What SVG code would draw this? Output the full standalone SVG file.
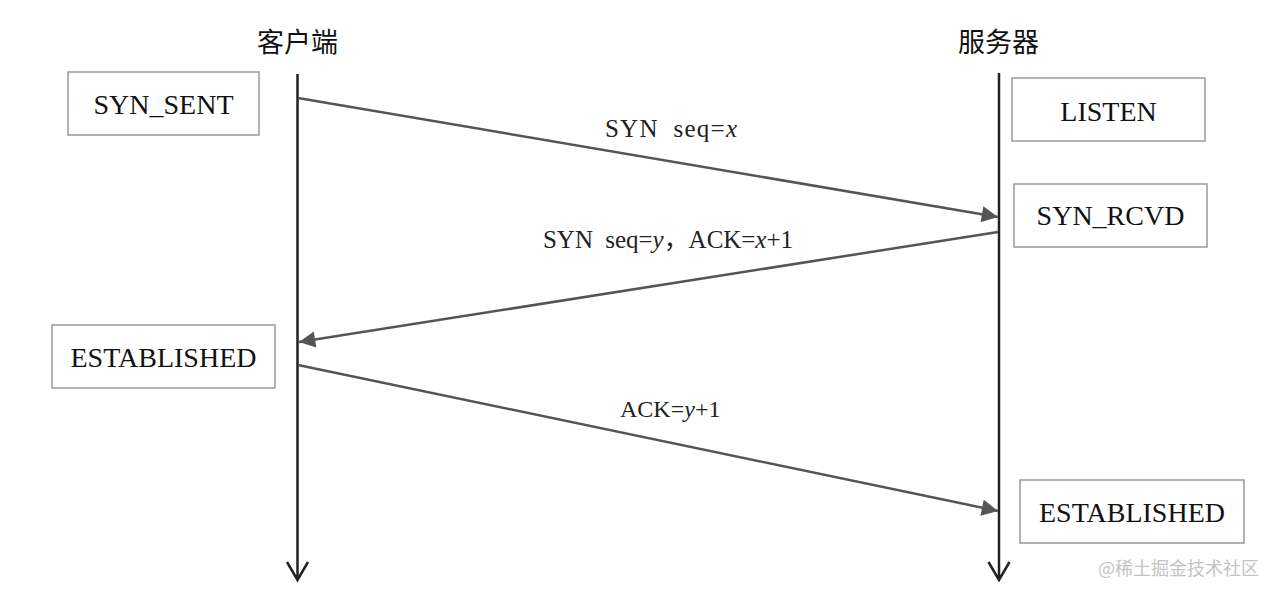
<svg xmlns="http://www.w3.org/2000/svg" width="1276" height="597" viewBox="0 0 1276 597">
<style>
.title{font-family:"Noto Sans CJK SC","Noto Sans CJK TC",sans-serif;font-size:27px;fill:#111;text-anchor:middle}
.box{fill:#fff;stroke:#9a9a9a;stroke-width:1.5}
.state{font-family:"Liberation Serif",serif;font-size:28px;fill:#111;text-anchor:middle}
.life{stroke:#222;stroke-width:2.5;fill:none}
.msg{stroke:#555;stroke-width:2.5;fill:none}
.lbl{font-family:"Liberation Serif","Noto Sans CJK SC",serif;font-size:25px;fill:#222;white-space:pre}
.it{font-style:italic}
.wm{font-family:"Noto Sans CJK SC",sans-serif;font-size:18px;fill:#c4c4c4}
</style>
<defs>
<marker id="ah" viewBox="0 0 10 10" refX="10" refY="5" markerWidth="7" markerHeight="6.5" markerUnits="strokeWidth" orient="auto">
<path d="M0,0 L10,5 L0,10 z" fill="#555"/>
</marker>
</defs>
<rect width="1276" height="597" fill="#fff"/>
<g id="client-title"><text class="title" x="297.5" y="52">客户端</text></g>
<g id="server-title"><text class="title" x="998.5" y="52">服务器</text></g>
<g id="lifelines">
<path class="life" d="M297.5,74 V580 M287,562 L297.5,580 L308,562"/>
<path class="life" d="M999,73 V580 M988.5,562 L999,580 L1009.5,562"/>
</g>
<g id="syn-sent"><rect class="box" x="68" y="72" width="191" height="63"/><text class="state" x="163.5" y="114">SYN_SENT</text></g>
<g id="listen"><rect class="box" x="1012" y="78" width="193" height="63"/><text class="state" x="1108.5" y="121">LISTEN</text></g>
<g id="syn-rcvd"><rect class="box" x="1014" y="184" width="193" height="63"/><text class="state" x="1110.5" y="225">SYN_RCVD</text></g>
<g id="est-client"><rect class="box" x="52" y="325" width="223" height="63"/><text class="state" x="163.5" y="367">ESTABLISHED</text></g>
<g id="est-server"><rect class="box" x="1020" y="480" width="224" height="63"/><text class="state" x="1132" y="522">ESTABLISHED</text></g>
<g id="connectors">
<line class="msg" x1="298" y1="98" x2="998" y2="217" marker-end="url(#ah)"/>
<line class="msg" x1="998" y1="232" x2="299" y2="342" marker-end="url(#ah)"/>
<line class="msg" x1="298" y1="365" x2="998" y2="511" marker-end="url(#ah)"/>
</g>
<g id="labels">
<text class="lbl" x="605" y="137" textLength="132" lengthAdjust="spacing">SYN  seq=<tspan class="it">x</tspan></text>
<text class="lbl" x="543" y="248" textLength="250" lengthAdjust="spacing">SYN  seq=<tspan class="it">y</tspan>，ACK=<tspan class="it">x</tspan>+1</text>
<text class="lbl" x="620" y="417" style="font-size:24px">ACK=<tspan class="it">y</tspan>+1</text>
</g>
<g id="watermark"><text class="wm" x="1098" y="575">@稀土掘金技术社区</text></g>
</svg>
